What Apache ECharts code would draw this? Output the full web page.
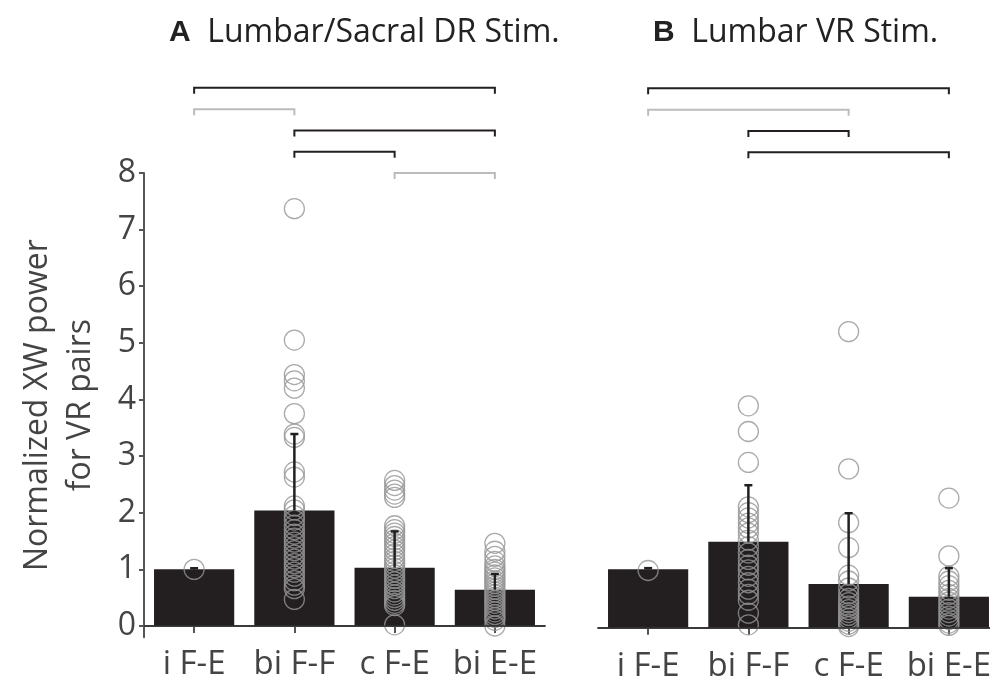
<!DOCTYPE html>
<html><head><meta charset="utf-8">
<script src="https://cdn.jsdelivr.net/npm/echarts@6/dist/echarts.min.js"></script>
<style>html,body{margin:0;padding:0;background:#fff}#c{width:990px;height:683px}</style>
</head><body><div id="c"></div>
<script>
// ---------- data ----------
const categories = ['i F-E', 'bi F-F', 'c F-E', 'bi E-E'];
const yTicks = [0, 1, 2, 3, 4, 5, 6, 7, 8];

// Panel A: Lumbar/Sacral DR Stim.
const meanA = [1.0, 2.04, 1.03, 0.64];
const errA  = [0.02, 1.35, 0.64, 0.28];
const ptsA_iFE = [1.0];
const ptsA_biFF = [7.37, 5.05, 4.44, 4.33, 4.2, 3.75, 3.39, 3.33, 2.72, 2.63, 2.12, 2.05, 1.95, 1.87, 1.78, 1.7, 1.62, 1.55, 1.48, 1.4, 1.33, 1.25, 1.18, 1.1, 1.03, 0.95, 0.88, 0.8, 0.72, 0.66, 0.47];
const ptsA_cFE = [2.57, 2.48, 2.4, 2.33, 2.27, 1.77, 1.7, 1.64, 1.58, 1.52, 1.46, 1.4, 1.34, 1.27, 1.2, 1.14, 1.08, 1.02, 0.96, 0.9, 0.84, 0.78, 0.72, 0.66, 0.6, 0.55, 0.5, 0.45, 0.4, 0.36, 0.02];
const ptsA_biEE = [1.46, 1.32, 1.23, 1.14, 1.06, 1.0, 0.95, 0.9, 0.85, 0.8, 0.75, 0.7, 0.65, 0.6, 0.55, 0.5, 0.45, 0.4, 0.35, 0.3, 0.25, 0.2, 0.15, 0.1, 0.0];

// Panel B: Lumbar VR Stim.
const meanB = [1.0, 1.47, 0.75, 0.53];
const errB  = [0.02, 0.97, 1.21, 0.49];
const ptsB_iFE = [0.98];
const ptsB_biFF = [3.8, 3.36, 2.83, 2.07, 1.97, 1.88, 1.79, 1.71, 1.62, 1.5, 1.39, 1.28, 1.17, 1.07, 0.99, 0.88, 0.77, 0.66, 0.57, 0.47, 0.25, 0.05];
const ptsB_cFE = [5.07, 2.72, 1.8, 1.37, 0.9, 0.8, 0.68, 0.58, 0.5, 0.43, 0.37, 0.31, 0.26, 0.21, 0.16, 0.11, 0.06, 0.02];
const ptsB_biEE = [2.22, 1.23, 0.88, 0.8, 0.72, 0.64, 0.57, 0.5, 0.44, 0.38, 0.32, 0.26, 0.2, 0.14, 0.08, 0.04];

// significance brackets: [fromCategory, toCategory, row (0 = top), significant 1 / n.s. 0]
const bracketsA = [[0, 3, 0, 1], [0, 1, 1, 0], [1, 3, 2, 1], [1, 2, 3, 1], [2, 3, 4, 0]];
const bracketsB = [[0, 3, 0, 1], [0, 2, 1, 0], [1, 2, 2, 1], [1, 3, 3, 1]];

// ---------- styling ----------
const FONT = 'Open Sans';
const TXT = '#444';
const AX = '#555';
const BAR = '#231f20';

function toPairs(groups) {
  const out = [];
  groups.forEach((g, i) => g.forEach(v => out.push([i, v])));
  return out;
}
function errRender(params, api) {
  const i = api.value(0), m = api.value(1), e = api.value(2);
  const p0 = api.coord([i, m]), p1 = api.coord([i, m + e]);
  return {
    type: 'group',
    children: [
      { type: 'line', shape: { x1: p0[0], y1: p0[1], x2: p1[0], y2: p1[1] }, style: { stroke: BAR, lineWidth: 2.5 } },
      { type: 'line', shape: { x1: p1[0] - 4, y1: p1[1], x2: p1[0] + 4, y2: p1[1] }, style: { stroke: BAR, lineWidth: 2.5 } }
    ]
  };
}
function bracketRender(base, step, nRows) {
  return function (params, api) {
    const a = api.value(0), b = api.value(1), row = api.value(2), sig = api.value(3);
    const yv = base + (nRows - 1 - row) * step;
    const p1 = api.coord([a, yv]), p2 = api.coord([b, yv]);
    return {
      type: 'polyline',
      shape: { points: [[p1[0], p1[1] + 6], [p1[0], p1[1]], [p2[0], p2[1]], [p2[0], p2[1] + 6]] },
      style: { stroke: sig ? BAR : '#bcbcbc', lineWidth: 2, fill: null }
    };
  };
}
function xAxisCfg(gi) {
  return {
    type: 'category', gridIndex: gi, data: categories,
    axisLine: { show: true, lineStyle: { color: AX, width: 2 } },
    axisTick: { show: true, alignWithLabel: true, length: 7, lineStyle: { color: AX, width: 2 } },
    axisLabel: { interval: 0, hideOverlap: false, fontSize: 33, color: TXT, fontFamily: FONT, margin: 11 }
  };
}
const scatterStyle = {
  type: 'scatter', symbol: 'circle', symbolSize: 20, z: 4,
  itemStyle: { color: 'rgba(0,0,0,0)', borderColor: '#959595', borderWidth: 1.3 }
};
const zeroLine = {
  silent: true, symbol: 'none', label: { show: false },
  lineStyle: { color: '#333', width: 1.5, type: 'solid' },
  data: [{ yAxis: 0 }]
};
const titleStyle = {
  fontSize: 32, fontFamily: FONT, fontWeight: 'normal', color: '#222',
  rich: { b: { fontSize: 30, fontFamily: 'Liberation Sans', fontWeight: 'bold', color: '#222' } }
};

const option = {
  animation: false,
  backgroundColor: '#fff',
  title: [
    { left: 164, top: 12, text: '{b|A}  Lumbar/Sacral DR Stim.', textStyle: titleStyle },
    { left: 648, top: 12, text: '{b|B}  Lumbar VR Stim.', textStyle: titleStyle }
  ],
  grid: [
    { left: 144, top: 173, width: 401, height: 464.3, outerBoundsMode: 'none', containLabel: false },
    { left: 598, top: 160.5, width: 401, height: 478.9, outerBoundsMode: 'none', containLabel: false }
  ],
  xAxis: [xAxisCfg(0), xAxisCfg(1)],
  yAxis: [
    { type: 'value', gridIndex: 0, min: -0.2, max: 8,
      axisLine: { show: true, lineStyle: { color: AX, width: 2 } },
      axisTick: { show: true, customValues: yTicks, length: 5, lineStyle: { color: AX, width: 2 } },
      axisLabel: { customValues: yTicks, fontSize: 32, color: TXT, fontFamily: FONT, margin: 8 },
      splitLine: { show: false },
      name: 'Normalized XW power\nfor VR pairs', nameLocation: 'middle', nameRotate: 90, nameGap: 42,
      nameTextStyle: { fontSize: 32, lineHeight: 43, color: TXT, fontFamily: FONT } },
    { type: 'value', gridIndex: 1, min: -0.2, max: 8, show: false, splitLine: { show: false } }
  ],
  series: [
    { type: 'bar', xAxisIndex: 0, yAxisIndex: 0, data: meanA, barWidth: '80%', itemStyle: { color: BAR }, z: 2, markLine: zeroLine },
    Object.assign({}, scatterStyle, { xAxisIndex: 0, yAxisIndex: 0, data: toPairs([ptsA_iFE, ptsA_biFF, ptsA_cFE, ptsA_biEE]) }),
    { type: 'custom', xAxisIndex: 0, yAxisIndex: 0, z: 5, renderItem: errRender, data: meanA.map((m, i) => [i, m, errA[i]]) },
    { type: 'custom', xAxisIndex: 0, yAxisIndex: 0, z: 5, clip: false, renderItem: bracketRender(8.0, 0.376, 5), data: bracketsA },

    { type: 'bar', xAxisIndex: 1, yAxisIndex: 1, data: meanB, barWidth: '80%', itemStyle: { color: BAR }, z: 2, markLine: zeroLine },
    Object.assign({}, scatterStyle, { xAxisIndex: 1, yAxisIndex: 1, data: toPairs([ptsB_iFE, ptsB_biFF, ptsB_cFE, ptsB_biEE]) }),
    { type: 'custom', xAxisIndex: 1, yAxisIndex: 1, z: 5, renderItem: errRender, data: meanB.map((m, i) => [i, m, errB[i]]) },
    { type: 'custom', xAxisIndex: 1, yAxisIndex: 1, z: 5, clip: false, renderItem: bracketRender(8.14, 0.365, 4), data: bracketsB }
  ]
};
const chart = echarts.init(document.getElementById('c'), null, { renderer: 'canvas' });
chart.setOption(option);
</script>
</body></html>
